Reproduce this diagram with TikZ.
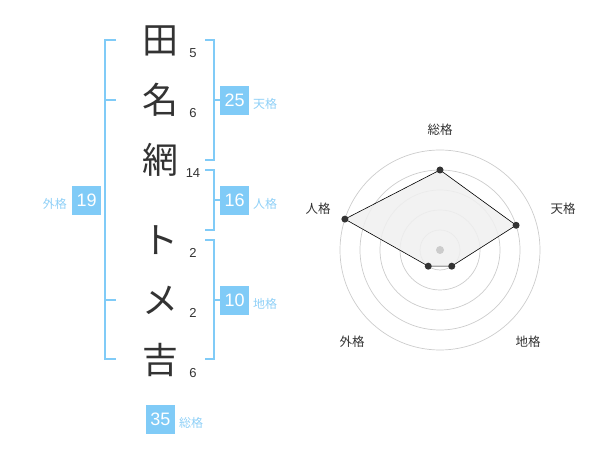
\documentclass[tikz,border=0pt]{standalone}
\usepackage{fontspec}
\setmainfont{Liberation Sans}
\newfontfamily\jp{Noto Sans CJK JP}
\definecolor{kblue}{HTML}{80CBF7}
\definecolor{klab}{HTML}{8FD0F7}
\definecolor{kdark}{HTML}{333333}
\definecolor{kring}{HTML}{CCCCCC}
\tikzset{
  kanji/.style={font=\jp\fontsize{36}{36}\selectfont, text=kdark, inner sep=0pt},
  strokes/.style={font=\fontsize{13}{13}\selectfont, text=kdark, inner sep=0pt},
  valbox/.style={fill=kblue, text=white, font=\fontsize{18}{18}\selectfont, minimum width=29pt, minimum height=29pt, inner sep=0pt},
  kakulab/.style={font=\jp\fontsize{12}{12}\selectfont, text=klab, inner sep=0pt, anchor=west},
  brk/.style={draw=kblue, line width=1.8pt},
  ring/.style={draw=kring, line width=0.7pt},
  radlab/.style={font=\jp\fontsize{12.5}{12.5}\selectfont, text=kdark, inner sep=0pt},
  dot/.style={circle, fill=kdark, inner sep=0pt, minimum size=7pt},
}
\begin{document}
\begin{tikzpicture}[x=1pt, y=-1pt]
\useasboundingbox (0,0) rectangle (600,470);
% name characters
\node[kanji] (c1) at (160,41) {田};
\node[kanji] (c2) at (160,100) {名};
\node[kanji] (c3) at (160,160) {網};
\node[kanji] (c4) at (160,240) {ト};
\node[kanji] (c5) at (160,300) {メ};
\node[kanji] (c6) at (160,360) {吉};
% stroke counts
\node[strokes] (s1) at (193,53) {5};
\node[strokes] (s2) at (193,113) {6};
\node[strokes] (s3) at (193,173) {14};
\node[strokes] (s4) at (193,253) {2};
\node[strokes] (s5) at (193,313) {2};
\node[strokes] (s6) at (193,373) {6};
% brackets
\draw[brk] (116,40) -- (105,40) -- (105,359) -- (116,359);
\draw[brk] (105,300) -- (116,300);
\draw[brk] (105,100) -- (116,100);
\draw[brk] (205,40) -- (214,40) -- (214,160) -- (205,160);
\draw[brk] (214,100) -- (221,100);
\draw[brk] (205,170) -- (214,170) -- (214,230) -- (205,230);
\draw[brk] (214,200) -- (221,200);
\draw[brk] (205,240) -- (214,240) -- (214,359) -- (205,359);
\draw[brk] (214,300) -- (221,300);
% value boxes
\node[valbox] (ten) at (234.7,100.5) {25};
\node[kakulab] (tenl) at (253,104) {天格};
\node[valbox] (jin) at (234.7,200.5) {16};
\node[kakulab] (jinl) at (253,204) {人格};
\node[valbox] (chi) at (234.7,300.3) {10};
\node[kakulab] (chil) at (253,304) {地格};
\node[valbox] (gai) at (86.7,200.5) {19};
\node[kakulab, anchor=east] (gail) at (67,204) {外格};
\node[valbox] (sou) at (160.5,419) {35};
\node[kakulab] (soul) at (179,423) {総格};
% radar chart
\begin{scope}[shift={(440,250)}]
  \foreach \r in {20,40,60,80,100} \draw[ring] (0,0) circle[radius=\r pt];
  \coordinate (pS) at (-90:80);
  \coordinate (pT) at (-18:80);
  \coordinate (pC) at (54:20);
  \coordinate (pG) at (126:20);
  \coordinate (pJ) at (198:100);
  \filldraw[fill=gray!12, fill opacity=0.85, draw=black, line width=0.6pt] (pS) -- (pT) -- (pC) -- (pG) -- (pJ) -- cycle;
  \node[circle, fill=kring, inner sep=0pt, minimum size=8pt] (ctr) at (0,0) {};
  \node[dot] (dS) at (pS) {};
  \node[dot] (dT) at (pT) {};
  \node[dot] (dC) at (pC) {};
  \node[dot] (dG) at (pG) {};
  \node[dot] (dJ) at (pJ) {};
  \node[radlab] (lS) at (0,-120) {総格};
  \node[radlab] (lT) at (123,-41) {天格};
  \node[radlab] (lC) at (88,92) {地格};
  \node[radlab] (lG) at (-88,92) {外格};
  \node[radlab] (lJ) at (-122,-41) {人格};
\end{scope}
\end{tikzpicture}
\end{document}
